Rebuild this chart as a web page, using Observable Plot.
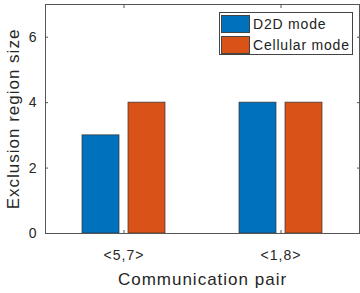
<!DOCTYPE html>
<html>
<head>
<meta charset="utf-8">
<script src="https://cdn.jsdelivr.net/npm/d3@7"></script>
<script src="https://cdn.jsdelivr.net/npm/@observablehq/plot@0.6"></script>
<style>
  body { margin: 0; background: #fff; }
  #wrap { position: relative; width: 360px; height: 293px; font-family: "Liberation Sans", Arial, sans-serif; }
  #wrap svg text { letter-spacing: 1px; }
  .legend { position: absolute; left: 219px; top: 12px; width: 134px; height: 43px; border: 1px solid #444; background: #fff; box-sizing: border-box; font-size: 14px; letter-spacing: 0.8px; color: #222; white-space: nowrap; }
  .legend .row { position: absolute; left: 1px; height: 19px; display: flex; align-items: center; white-space: nowrap; }
  .legend .sw { flex: none; width: 29px; height: 18px; box-sizing: border-box; border: 1px solid #444; margin-right: 3px; }
</style>
</head>
<body>
<div id="wrap"></div>
<script>
const pairs = ["<5,7>", "<1,8>"];
const modes = ["D2D mode", "Cellular mode"];
const d2dValues = [3, 4];
const cellularValues = [4, 4];
const yTicks = [0, 2, 4, 6];
const colors = ["#0072BD", "#D95319"];

const data = pairs.flatMap((p, i) => [
  {pair: p, mode: modes[0], value: d2dValues[i]},
  {pair: p, mode: modes[1], value: cellularValues[i]}
]);

const ink = "#262626";
const line = "#555";
const blank = () => "";
const chart = Plot.plot({
  width: 360,
  height: 293,
  marginLeft: 44,
  marginRight: 1,
  marginTop: 4,
  marginBottom: 60,
  style: {fontFamily: "'Liberation Sans', Arial, sans-serif", fontSize: "14px", color: ink, background: "#fff"},
  fx: {domain: pairs, paddingInner: 0, paddingOuter: 0, label: null, axis: null},
  x: {domain: modes, paddingInner: 0.196, paddingOuter: 0.8, axis: null},
  y: {domain: [0, 7], axis: null},
  color: {domain: modes, range: colors},
  marks: [
    Plot.barY(data, {fx: "pair", x: "mode", y: "value", fill: "mode", stroke: "#333", strokeWidth: 0.7}),
    Plot.frame({facet: "super", stroke: line, strokeWidth: 1}),
    Plot.axisY({anchor: "left", ticks: yTicks, tickFormat: d3.format("d"), tickSize: -3, tickPadding: 11, fontSize: 14, stroke: line, label: null}),
    Plot.axisY({anchor: "left", ticks: yTicks, tickFormat: blank, tickSize: 0, fontSize: 17,
      label: "Exclusion region size", labelAnchor: "center", labelArrow: "none", labelOffset: 39}),
    Plot.axisY({anchor: "right", ticks: yTicks, tickFormat: blank, tickSize: -3, stroke: line, label: null}),
    Plot.axisFx({anchor: "bottom", tickSize: -3, tickPadding: 20, fontSize: 14, stroke: line, label: null}),
    Plot.axisFx({anchor: "bottom", tickSize: 0, tickFormat: blank, fontSize: 17,
      label: "Communication pair", labelAnchor: "center", labelArrow: "none", labelOffset: 51}),
    Plot.axisFx({anchor: "top", tickSize: -3, tickFormat: blank, stroke: line, label: null})
  ]
});
document.getElementById("wrap").appendChild(chart);

const legend = document.createElement("div");
legend.className = "legend";
modes.forEach((m, i) => {
  const row = document.createElement("div");
  row.className = "row";
  row.style.top = (1 + i * 21) + "px";
  const sw = document.createElement("div");
  sw.className = "sw";
  sw.style.background = colors[i];
  const t = document.createElement("span");
  t.textContent = m;
  row.appendChild(sw);
  row.appendChild(t);
  legend.appendChild(row);
});
document.getElementById("wrap").appendChild(legend);
</script>
</body>
</html>
